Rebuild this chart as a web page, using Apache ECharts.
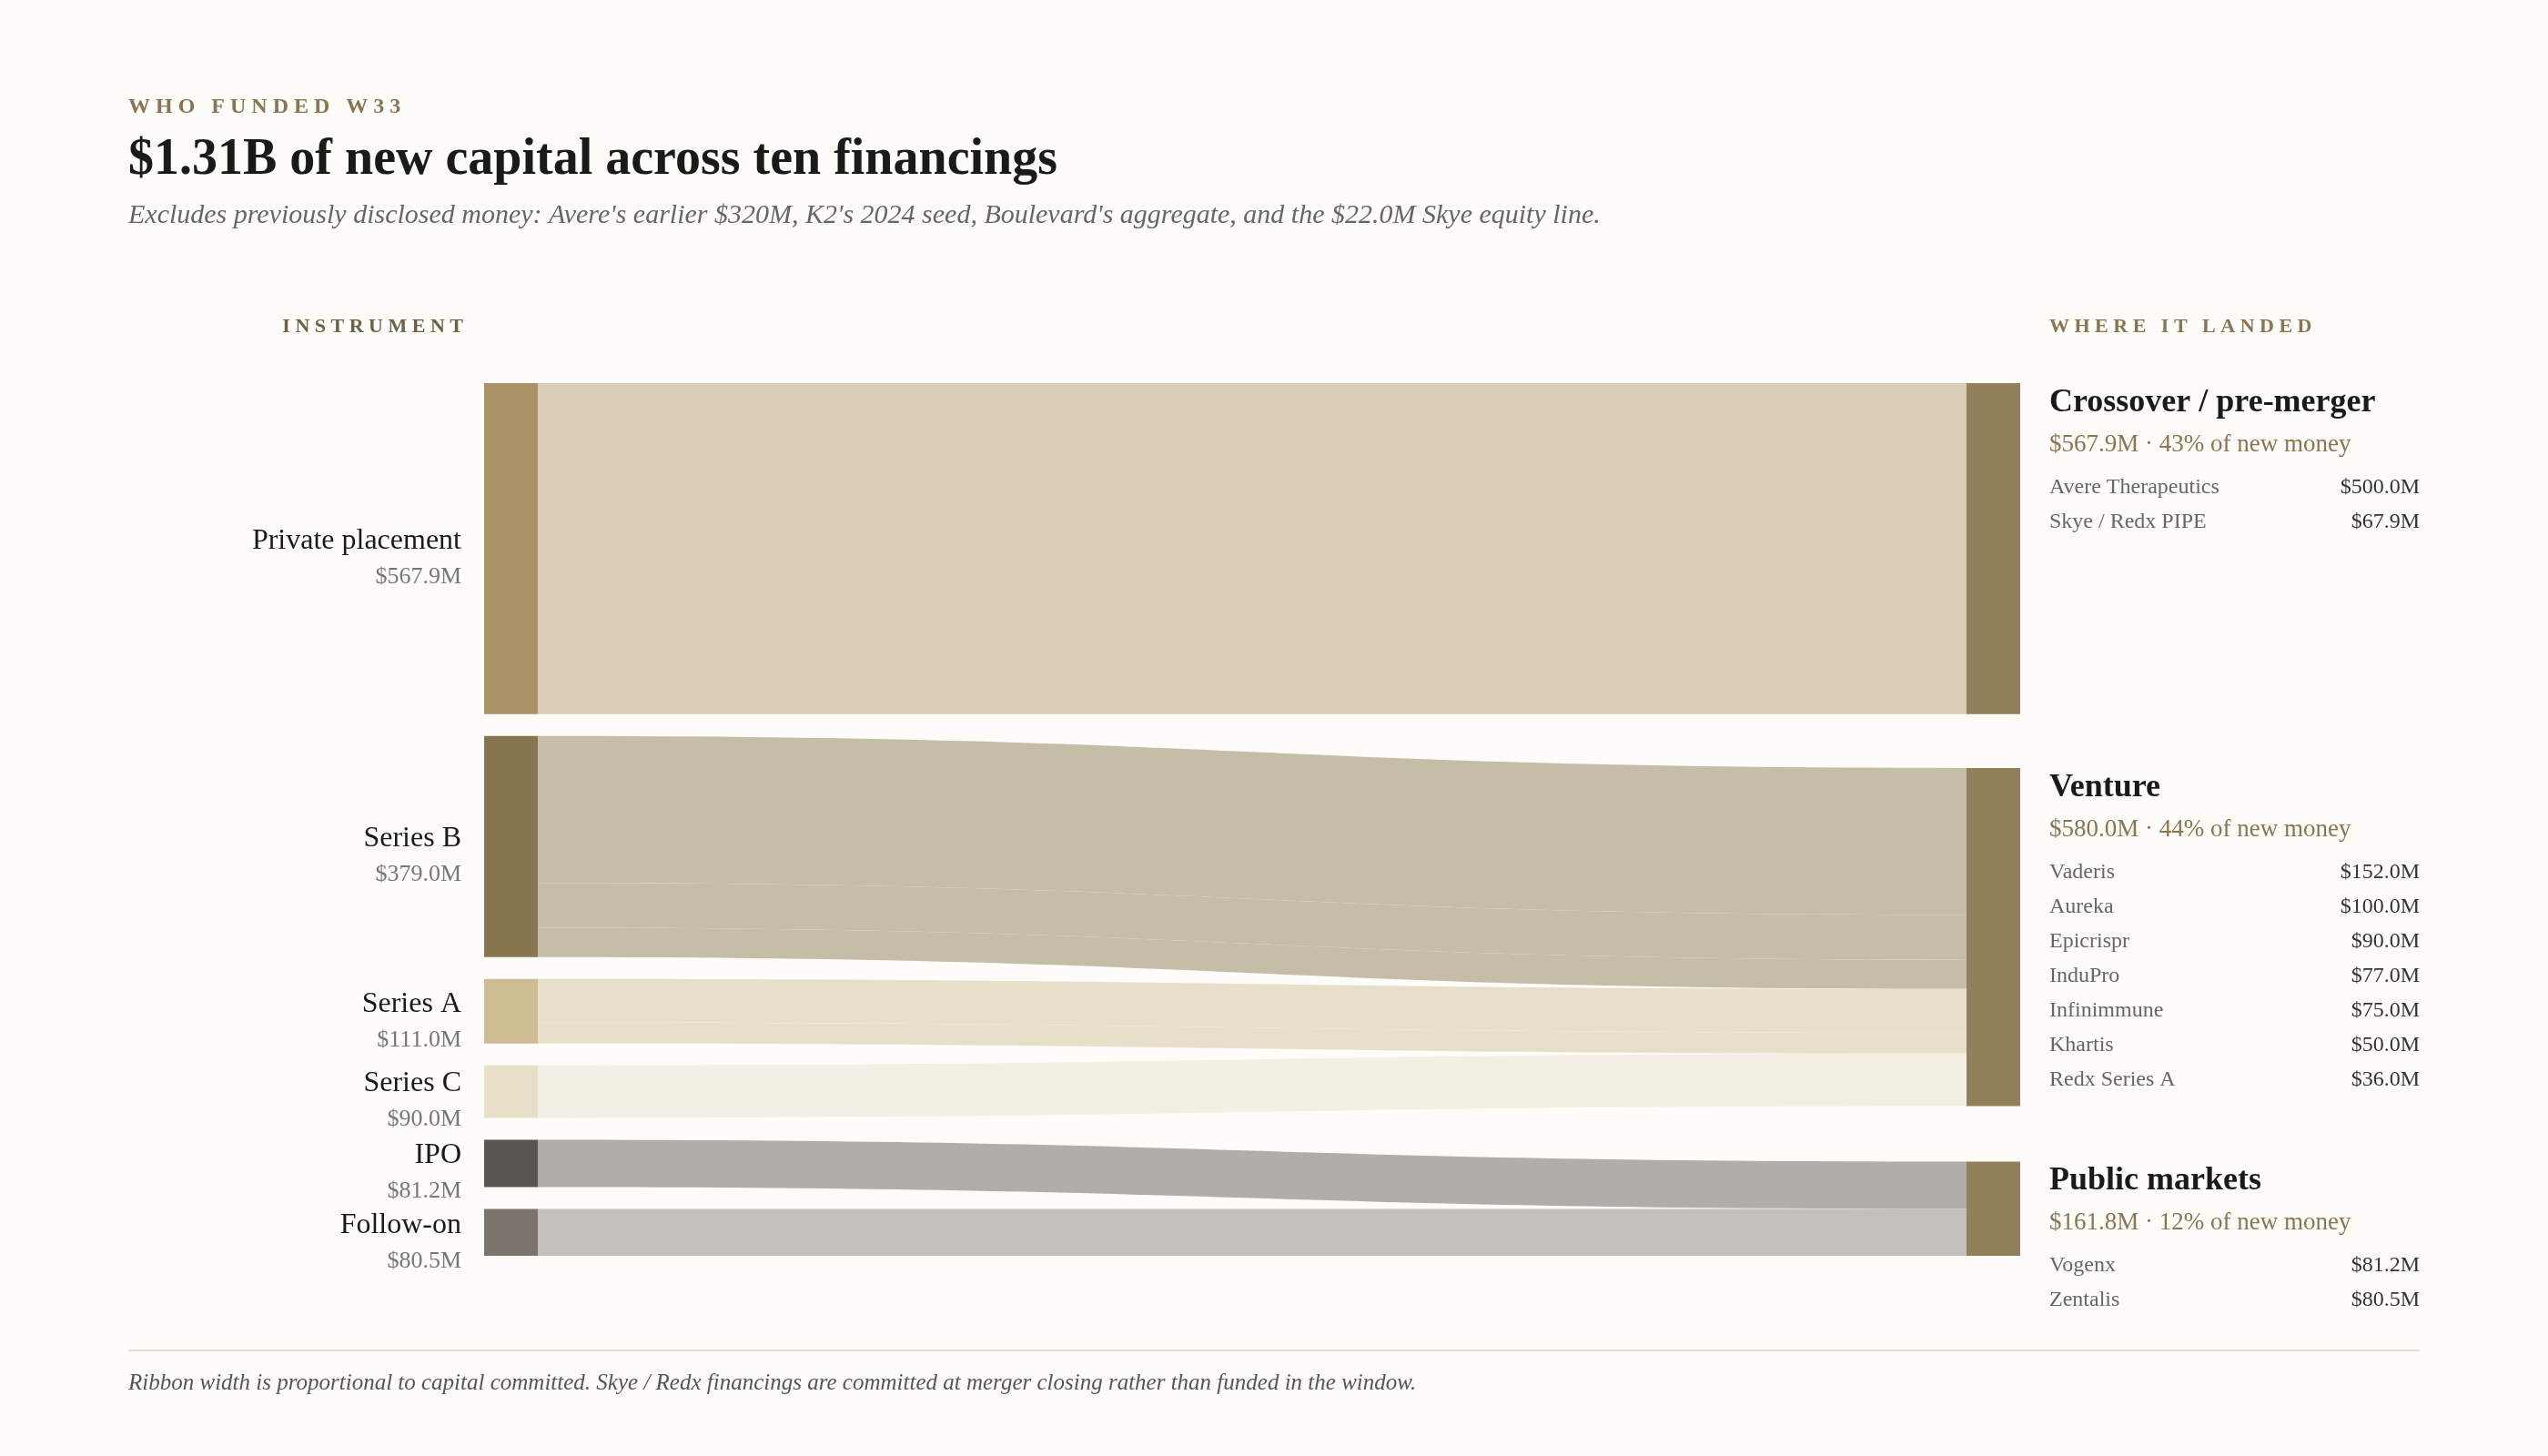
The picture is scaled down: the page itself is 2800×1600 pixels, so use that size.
<!DOCTYPE html>
<html><head><meta charset="utf-8">
<script src="https://cdn.jsdelivr.net/npm/echarts@6/dist/echarts.min.js"></script>
<style>html,body{margin:0;background:#fdfcf8}#c{width:2800px;height:1600px}</style>
</head><body><div id="c"></div>
<script>
const instruments = ['Private placement','Series B','Series A','Series C','IPO','Follow-on'];
const instrumentValues = [567.9,379.0,111.0,90.0,81.2,80.5];
const instrumentColors = ['#a89266','#877650','#cdbb92','#e8dfc8','#5a5550','#7a746c'];
const linkColors = ['#d8cdb7','#c6bda9','#e8dfcb','#f3efe4','#b1aeaa','#c3c0bc'];
const destinations = ['Crossover / pre-merger','Venture','Public markets'];
const destValues = [567.9,580.0,161.8];
const destShares = ['43%','44%','12%'];
const destLocalY = [0,0.441,0.892];
const links = [
  ['Private placement','Crossover / pre-merger',567.9],
  ['Series B','Venture',252.0],
  ['Series B','Venture',77.0],
  ['Series B','Venture',50.0],
  ['Series A','Venture',75.0],
  ['Series A','Venture',36.0],
  ['Series C','Venture',90.0],
  ['IPO','Public markets',81.2],
  ['Follow-on','Public markets',80.5]
];
const companies = [
  [['Avere Therapeutics',500.0],['Skye / Redx PIPE',67.9]],
  [['Vaderis',152.0],['Aureka',100.0],['Epicrispr',90.0],['InduPro',77.0],['Infinimmune',75.0],['Khartis',50.0],['Redx Series A',36.0]],
  [['Vogenx',81.2],['Zentalis',80.5]]
];
const F='"Liberation Serif","DejaVu Serif",serif';
const gold='#8a7550';
const nodes = instruments.map((n,i)=>({name:n,value:instrumentValues[i],depth:0,itemStyle:{color:instrumentColors[i]}}))
 .concat(destinations.map((n,i)=>({name:n,value:destValues[i],depth:1,localY:destLocalY[i],itemStyle:{color:'#918059'}})));
const linkData = links.map(l=>({source:l[0],target:l[1],value:l[2],lineStyle:{color:linkColors[instruments.indexOf(l[0])],opacity:1}}));
const fmt=v=>'$'+v.toFixed(1)+'M';
const g=[];
function t(x,y,text,font,fill,align,extra){g.push({type:'text',x,y,style:Object.assign({text,font,fill,align:align||'left',verticalAlign:'middle'},extra||{})});}
t(141,118,'W H O   F U N D E D   W 3 3','bold 24px '+F,gold);
t(141,177,'$1.31B of new capital across ten financings','bold 56px '+F,'#1a1a1a');
t(141,237,"Excludes previously disclosed money: Avere's earlier $320M, K2's 2024 seed, Boulevard's aggregate, and the $22.0M Skye equity line.",'italic 30px '+F,'#666');
t(509,359,'I N S T R U M E N T','bold 22px '+F,'#6e5f45','right');
t(2252,359,'W H E R E   I T   L A N D E D','bold 22px '+F,'#8a7550');
const leftY=[[595,634],[922,961],[1104,1143],[1191,1230],[1270,1309],[1347,1386]];
instruments.forEach((n,i)=>{t(507,leftY[i][0],n,'32px '+F,'#1a1a1a','right');t(507,leftY[i][1],fmt(instrumentValues[i]),'26px '+F,'#777','right');});
const rightY=[443,866,1298];
destinations.forEach((n,i)=>{
  const y=rightY[i];
  t(2252,y,n,'bold 36px '+F,'#1a1a1a');
  t(2252,y+46,fmt(destValues[i])+' · '+destShares[i]+' of new money','27px '+F,gold);
  companies[i].forEach((c,j)=>{const yy=y+93+j*38;t(2252,yy,c[0],'24px '+F,'#666');t(2659,yy,fmt(c[1]),'24px '+F,'#333','right');});
});
g.push({type:'line',shape:{x1:141,y1:1484,x2:2659,y2:1484},style:{stroke:'#e2ded5',lineWidth:2}});
t(141,1520,'Ribbon width is proportional to capital committed. Skye / Redx financings are committed at merger closing rather than funded in the window.','italic 25px '+F,'#555');
const chart=echarts.init(document.getElementById('c'));
chart.setOption({backgroundColor:'#fdfcf8',animation:false,
 series:[{type:'sankey',left:532,right:580,top:421,height:959,nodeWidth:59,nodeGap:24,layoutIterations:0,draggable:false,
   label:{show:false},emphasis:{disabled:true},lineStyle:{curveness:0.5},data:nodes,links:linkData}],
 graphic:g});
</script></body></html>
